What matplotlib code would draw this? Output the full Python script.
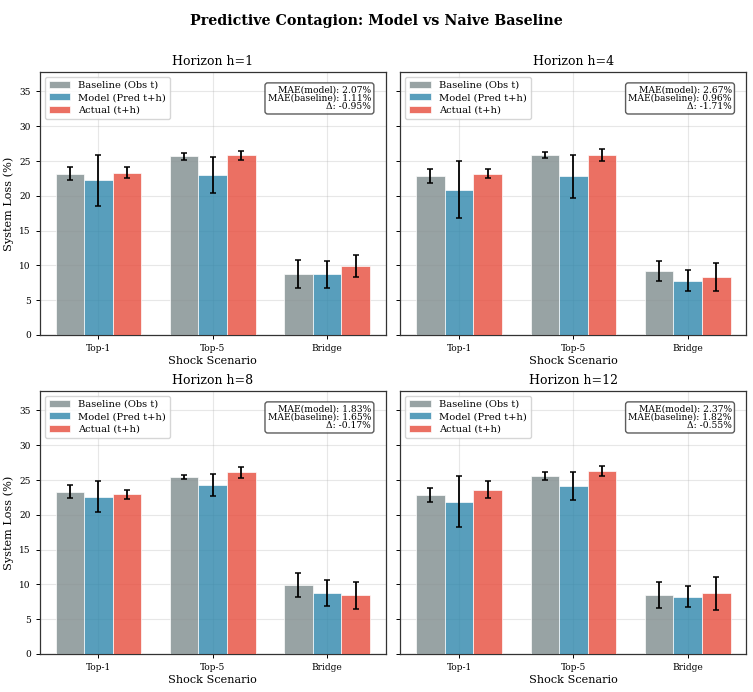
import matplotlib
matplotlib.use("Agg")
import matplotlib.pyplot as plt
import numpy as np

plt.rcParams['font.family'] = 'DejaVu Serif'

scenarios = ["Top-1", "Top-5", "Bridge"]
horizons = [1, 4, 8, 12]

# means per horizon: [Top-1, Top-5, Bridge]
baseline = {1: [23.2, 25.7, 8.8], 4: [22.9, 25.8, 9.2],
            8: [23.3, 25.4, 9.9], 12: [22.8, 25.6, 8.5]}
baseline_err = {1: [1.0, 0.5, 2.0], 4: [1.0, 0.43, 1.42],
                8: [0.94, 0.26, 1.7], 12: [0.98, 0.55, 1.87]}
model = {1: [22.2, 23.0, 8.7], 4: [20.9, 22.8, 7.8],
         8: [22.6, 24.3, 8.8], 12: [21.9, 24.2, 8.2]}
model_err = {1: [3.67, 2.64, 1.9], 4: [4.08, 3.07, 1.54],
             8: [2.21, 1.56, 1.87], 12: [3.62, 2.02, 1.5]}
actual = {1: [23.3, 25.8, 9.9], 4: [23.2, 25.9, 8.3],
          8: [22.95, 26.1, 8.45], 12: [23.6, 26.3, 8.7]}
actual_err = {1: [0.8, 0.65, 1.54], 4: [0.7, 0.89, 1.97],
              8: [0.67, 0.77, 1.92], 12: [1.2, 0.67, 2.42]}
mae_model = {1: 2.07, 4: 2.67, 8: 1.83, 12: 2.37}
mae_base = {1: 1.11, 4: 0.96, 8: 1.65, 12: 1.82}
delta = {1: -0.95, 4: -1.71, 8: -0.17, 12: -0.55}

fig, axes = plt.subplots(2, 2, figsize=(7.53, 6.92), dpi=100, sharey=True)
fig.subplots_adjust(left=0.053, right=0.991, top=0.896, bottom=0.055,
                    hspace=0.213, wspace=0.043)
fig.suptitle("Predictive Contagion: Model vs Naive Baseline",
             fontsize=10.3, fontweight='bold', y=0.98)

x = np.arange(len(scenarios))
w = 0.25
err_kw = dict(ecolor='black', capsize=2.3, elinewidth=1.3, capthick=1.1)

for ax, h in zip(axes.flat, horizons):
    ax.bar(x - w, baseline[h], w, yerr=baseline_err[h], color='#7f8c8d',
           alpha=0.8, edgecolor='white', linewidth=0.6,
           label='Baseline (Obs t)', error_kw=err_kw, zorder=3)
    ax.bar(x, model[h], w, yerr=model_err[h], color='#2e86ab',
           alpha=0.8, edgecolor='white', linewidth=0.6,
           label='Model (Pred t+h)', error_kw=err_kw, zorder=3)
    ax.bar(x + w, actual[h], w, yerr=actual_err[h], color='#e74c3c',
           alpha=0.8, edgecolor='white', linewidth=0.6,
           label='Actual (t+h)', error_kw=err_kw, zorder=3)
    ax.set_xticks(x)
    ax.set_xticklabels(scenarios, fontsize=6.5)
    ax.tick_params(axis='both', labelsize=6.5, length=3, width=0.7)
    ax.set_xlabel("Shock Scenario", fontsize=8.1, labelpad=2)
    ax.set_title(f"Horizon h={h}", fontsize=9, pad=5)
    ax.grid(alpha=0.3, zorder=0)
    ax.set_ylim(0, 37.8)
    ax.legend(loc='upper left', fontsize=7.1, handlelength=2.2,
              borderaxespad=0.5, labelspacing=0.35)
    txt = (f"MAE(model): {mae_model[h]:.2f}%\n"
           f"MAE(baseline): {mae_base[h]:.2f}%\n"
           f"\u0394: {delta[h]:.2f}%")
    ax.text(0.958, 0.948, txt, transform=ax.transAxes, ha='right', va='top',
            fontsize=6.6, linespacing=0.9,
            bbox=dict(boxstyle='round,pad=0.3', facecolor='white',
                      edgecolor='#333333', alpha=0.8))
    for s in ax.spines.values():
        s.set_color('#333333')
        s.set_linewidth(0.9)

for ax in axes[:, 0]:
    ax.set_ylabel("System Loss (%)", fontsize=8.1, labelpad=4)

fig.savefig("out.png", dpi=100)
